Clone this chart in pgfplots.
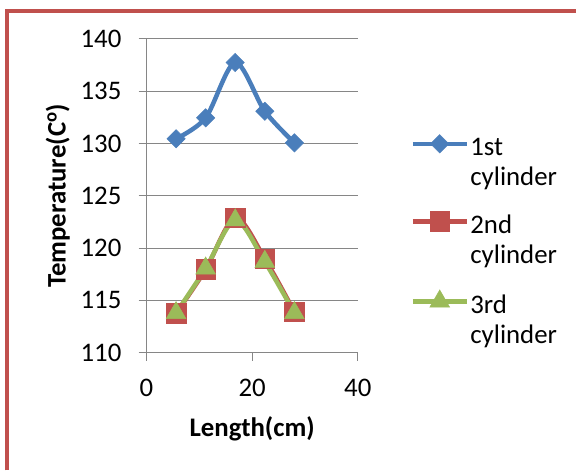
\documentclass[border=0pt]{standalone}
\usepackage{pgfplots}
\pgfplotsset{compat=1.18}
\usepackage{fontspec}
\setmainfont{Carlito}
\definecolor{xlblue}{RGB}{74,126,187}
\definecolor{xlred}{RGB}{192,80,77}
\definecolor{xlgreen}{RGB}{155,187,89}
\definecolor{xlgrid}{RGB}{134,134,134}
\begin{document}
\fontsize{27}{30}\selectfont
\begin{tikzpicture}[x=1bp,y=1bp]
\fill[white] (0,0) rectangle (578,472);
\draw[xlred, line width=4bp] (7.5,0) -- (7.5,461) -- (578,461);
\begin{axis}[
  at={(147bp,118bp)}, anchor=south west, scale only axis,
  width=212bp, height=315bp,
  xmin=0, xmax=40, ymin=110, ymax=140,
  xtick={0,20,40}, ytick={110,115,...,140},
  axis x line=bottom, axis y line=left,
  axis line style={-, xlgrid, line width=1.2bp},
  tick style={xlgrid, line width=1.2bp}, tick align=outside, major tick length=8bp,
  ymajorgrids, grid style={xlgrid, line width=1.2bp},
  /pgf/number format/assume math mode=true,
  xticklabel style={yshift=-9bp},
  yticklabel style={xshift=-8bp},
  xlabel={\textbf{Length(cm)}},
  ylabel={\textbf{Temperature(C\textsuperscript{o})}},
  xlabel style={at={(axis description cs:0.5,-0.241)}, anchor=center},
  ylabel style={at={(axis description cs:-0.42,0.5)}, anchor=center},
  legend style={draw=none, fill=none, at={(1.25,0.695)}, anchor=north west,
    inner sep=0pt, outer sep=0pt, row sep=21bp, column sep=0pt,
    nodes={inner sep=1.5bp, align=left}},
  legend cell align=left,
  legend image code/.code={\draw[mark repeat=2,mark phase=2] plot coordinates {(0bp,20bp)(27bp,20bp)(54bp,20bp)};},
  clip=false,
]
\addplot[xlblue, line width=4.5bp, smooth, tension=0.5, mark=square*, mark size=6.5bp,
  mark options={rotate=45, solid, line width=0.5bp, fill=xlblue}]
  coordinates {(5.6,130.45) (11.2,132.45) (16.8,137.74) (22.4,133.08) (28,130.06)};
\addlegendentry{1st\\cylinder}
\addplot[xlred, line width=4.5bp, smooth, tension=0.5, mark=square*, mark size=9.8bp,
  mark options={solid, line width=0.5bp, fill=xlred}]
  coordinates {(5.6,113.76) (11.2,117.96) (16.8,122.9) (22.4,118.99) (28,113.9)};
\addlegendentry{2nd\\cylinder}
\addplot[xlgreen, line width=4.5bp, smooth, tension=0.5, mark=triangle*, mark size=11.5bp,
  mark options={solid, line width=0.5bp, fill=xlgreen}]
  coordinates {(5.6,113.8) (11.2,118.06) (16.8,122.67) (22.4,118.7) (28,113.8)};
\addlegendentry{3rd\\cylinder}
\end{axis}
\end{tikzpicture}
\end{document}
